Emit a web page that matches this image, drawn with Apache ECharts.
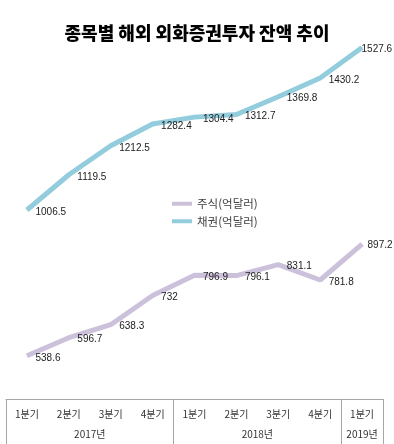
<!DOCTYPE html>
<html><head><meta charset="utf-8">
<script src="https://cdn.jsdelivr.net/npm/echarts@6/dist/echarts.min.js"></script>
<style>html,body{margin:0;padding:0;background:#fff}#c{width:394px;height:444px}</style>
</head><body><div id="c"></div>
<script>
var quarters = ['1분기','2분기','3분기','4분기','1분기','2분기','3분기','4분기','1분기'];
var yearLabels = ['2017년','2018년','2019년'];
var yearCenters = [2, 6, 8.5];
var yearBounds = [0, 4, 8, 9];
var stocks = [538.6, 596.7, 638.3, 732, 796.9, 796.1, 831.1, 781.8, 897.2];
var bonds = [1006.5, 1119.5, 1212.5, 1282.4, 1304.4, 1312.7, 1369.8, 1430.2, 1527.6];

var chart = echarts.init(document.getElementById('c'));
var lbl = {show:true, position:'right', distance:8, offset:[0,2], color:'#222', fontSize:10,
  fontFamily:'Liberation Sans, Arial, sans-serif'};
function withLast(arr, lastLabel){
  return arr.map(function(v,i){
    return i===arr.length-1 && lastLabel ? {value:v, label:lastLabel} : v;
  });
}
chart.setOption({
  animation:false,
  title:{text:'종목별 해외 외화증권투자 잔액 추이', left:'center', top:19,
    textStyle:{fontFamily:'Noto Sans CJK KR', fontWeight:900, fontSize:18, color:'#000'}},
  legend:{orient:'vertical', left:167, top:193, itemWidth:20, itemHeight:4, itemGap:6,
    icon:'rect',
    textStyle:{fontSize:11.5, color:'#404040', fontFamily:'Noto Sans CJK KR'},
    data:['주식(억달러)','채권(억달러)']},
  grid:{left:6, right:11, top:25, bottom:45},
  xAxis:[
    {type:'category', data:quarters, boundaryGap:true, position:'bottom',
     axisLine:{show:true, lineStyle:{color:'#a6a6a6', width:1}},
     axisTick:{show:false},
     axisLabel:{fontSize:10, color:'#333', margin:10, interval:0, fontFamily:'Noto Sans CJK KR'}},
    {type:'value', min:0, max:9, interval:0.5, position:'bottom',
     axisLine:{show:false}, axisTick:{show:false}, splitLine:{show:false},
     axisLabel:{fontSize:10, color:'#333', margin:30, showMinLabel:true, showMaxLabel:true,
       fontFamily:'Noto Sans CJK KR',
       formatter:function(v){var i=yearCenters.indexOf(v); return i>=0?yearLabels[i]:'';}}},
    {type:'value', min:yearBounds[0], max:yearBounds[3], interval:4, position:'bottom',
     axisLine:{show:false}, splitLine:{show:false}, axisLabel:{show:false},
     axisTick:{show:true, length:60, lineStyle:{color:'#a6a6a6', width:1}}}
  ],
  yAxis:{type:'value', min:400, max:1600, show:false, splitLine:{show:false}},
  series:[
    {name:'주식(억달러)', type:'line', data:withLast(stocks, {distance:5, offset:[0,1]}), symbol:'circle', symbolSize:1, color:'#ccc1da',
     itemStyle:{color:'#ccc1da'}, lineStyle:{width:5, color:'#ccc1da'}, label:lbl},
    {name:'채권(억달러)', type:'line', data:withLast(bonds, {distance:0, offset:[-1,2]}), symbol:'circle', symbolSize:1, color:'#93cddd',
     itemStyle:{color:'#93cddd'}, lineStyle:{width:5, color:'#93cddd'}, label:lbl}
  ]
});
</script></body></html>
